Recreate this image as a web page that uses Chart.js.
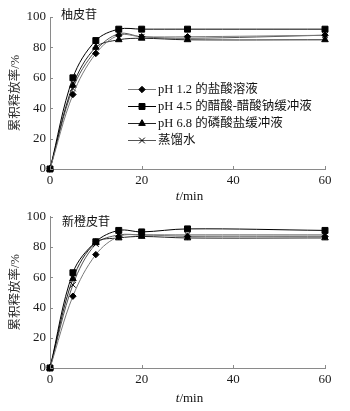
<!DOCTYPE html>
<html>
<head>
<meta charset="utf-8">
<script src="https://cdn.jsdelivr.net/npm/chart.js@4/dist/chart.umd.min.js"></script>
<style>
  html, body { margin: 0; padding: 0; background: #fff; }
  #wrap { position: relative; width: 350px; height: 411px; overflow: hidden; }
  .box { position: absolute; left: 0; width: 350px; }
  #box1 { top: 0; height: 205px; }
  #box2 { top: 205px; height: 206px; }
</style>
</head>
<body>
<div id="wrap">
  <div class="box" id="box1"><canvas id="c1" width="350" height="205"></canvas></div>
  <div class="box" id="box2"><canvas id="c2" width="350" height="206"></canvas></div>
</div>
<script>
// ---------- data ----------
const timeMin = [0, 5, 10, 15, 20, 30, 60];
const seriesNames = ['pH 1.2 的盐酸溶液', 'pH 4.5 的醋酸-醋酸钠缓冲液', 'pH 6.8 的磷酸盐缓冲液', '蒸馏水'];
const panelTitles = ['柚皮苷', '新橙皮苷'];
const yAxisTitle = '累积释放率/%';
const xAxisTitleItalic = 't';
const xAxisTitleRest = '/min';
const xTickValues = [0, 20, 40, 60];
const yTickValues = [0, 20, 40, 60, 80, 100];

// 柚皮苷 (naringin)
const naringinPH12 = [0, 49, 76, 88, 87, 87, 88];
const naringinPH45 = [0, 60, 84.5, 92, 92, 92, 92];
const naringinPH68 = [0, 55, 80, 85, 86, 85, 85];
const naringinWater = [0, 53, 78, 89, 87, 86, 88];

// 新橙皮苷 (neohesperidin)
const neoPH12 = [0, 47.5, 75, 87, 88, 87, 87];
const neoPH45 = [0, 63, 83.5, 91, 90, 92, 91];
const neoPH68 = [0, 59, 83, 86, 87, 86, 86];
const neoWater = [0, 55, 82, 88, 88, 88, 88];

// ---------- styles ----------
const serif = "'Liberation Serif', 'Times New Roman', 'DejaVu Serif', serif";
const cjk = "'Liberation Serif', 'Noto Sans CJK SC', 'Noto Sans CJK TC', serif";
const seriesStyles = [
  { line: '#7a7a7a', point: 'rectRot', r: 3.2 },
  { line: '#000000', point: 'rect', r: 4.2 },
  { line: '#222222', point: 'triangle', r: 3.8 },
  { line: '#555555', point: 'crossRot', r: 4 }
];
const axisColor = '#8a8a8a';

function makeDatasets(valuesList) {
  return valuesList.map((vals, i) => ({
    label: seriesNames[i],
    data: timeMin.map((t, k) => ({ x: t, y: vals[k] })),
    borderColor: seriesStyles[i].line,
    borderWidth: 1,
    backgroundColor: '#000',
    pointStyle: seriesStyles[i].point,
    pointRadius: seriesStyles[i].r,
    pointBackgroundColor: '#000',
    pointBorderColor: '#000',
    pointBorderWidth: 1,
    tension: 0.35,
    fill: false,
    clip: false
  }));
}

// inward tick marks, panel title, x title, optional legend
const decorPlugin = {
  id: 'decor',
  afterDraw(chart, args, opts) {
    const ctx = chart.ctx;
    const ca = chart.chartArea;
    const xs = chart.scales.x, ys = chart.scales.y;
    ctx.save();
    ctx.strokeStyle = axisColor;
    ctx.lineWidth = 1;
    ctx.beginPath();
    yTickValues.forEach(v => {
      const y = Math.round(ys.getPixelForValue(v)) + 0.5;
      ctx.moveTo(ca.left, y); ctx.lineTo(ca.left + 3, y);
    });
    xTickValues.forEach(v => {
      const x = Math.round(xs.getPixelForValue(v)) + 0.5;
      ctx.moveTo(x, ca.bottom); ctx.lineTo(x, ca.bottom - 3);
    });
    ctx.stroke();

    // panel title
    ctx.fillStyle = '#111';
    ctx.font = "12px 'Noto Sans CJK SC', sans-serif";
    ctx.textBaseline = 'middle';
    ctx.textAlign = 'left';
    ctx.fillText(opts.title, opts.titleX, opts.titleY);

    // x axis title with italic t
    ctx.font = 'italic 13px ' + serif;
    const w1 = ctx.measureText(xAxisTitleItalic).width;
    ctx.font = '13px ' + serif;
    const w2 = ctx.measureText(xAxisTitleRest).width;
    const cx = (ca.left + ca.right) / 2 + 2;
    const x0 = cx - (w1 + w2) / 2;
    ctx.font = 'italic 13px ' + serif;
    ctx.fillText(xAxisTitleItalic, x0, opts.xTitleY);
    ctx.font = '13px ' + serif;
    ctx.fillText(xAxisTitleRest, x0 + w1, opts.xTitleY);

    // legend
    if (opts.legend) {
      const lg = opts.legend;
      chart.data.datasets.forEach((ds, i) => {
        const y = lg.ys[i];
        ctx.strokeStyle = ds.borderColor;
        ctx.lineWidth = 1;
        ctx.beginPath();
        ctx.moveTo(lg.x0, y + 0.5); ctx.lineTo(lg.x1, y + 0.5);
        ctx.stroke();
        ctx.fillStyle = '#000';
        ctx.strokeStyle = '#000';
        Chart.helpers.drawPoint(ctx, { pointStyle: ds.pointStyle, radius: ds.pointRadius, borderWidth: 1, rotation: 0 }, (lg.x0 + lg.x1) / 2, y + 0.5);
        ctx.fillStyle = '#111';
        ctx.font = '12.5px ' + cjk;
        ctx.textBaseline = 'middle';
        ctx.fillText(ds.label, lg.tx, y + 1);
      });
    }
    ctx.restore();
  }
};

function makeChart(canvasId, datasets, pad, xHeight, decor) {
  return new Chart(document.getElementById(canvasId), {
    type: 'line',
    data: { datasets },
    plugins: [decorPlugin],
    options: {
      responsive: false,
      animation: false,
      events: [],
      layout: { padding: { left: 0, right: 25, top: pad.top, bottom: 0 } },
      plugins: {
        legend: { display: false },
        tooltip: { enabled: false },
        decor
      },
      scales: {
        x: {
          type: 'linear',
          min: 0, max: 60,
          afterBuildTicks: s => { s.ticks = xTickValues.map(v => ({ value: v })); },
          afterFit: s => { s.height = xHeight; },
          grid: { display: true, drawOnChartArea: false, drawTicks: false, color: 'rgba(0,0,0,0)' },
          border: { display: true, color: axisColor, width: 1 },
          ticks: { padding: 4, color: '#1a1a1a', font: { family: serif, size: 13 }, maxRotation: 0 },
          title: { display: false }
        },
        y: {
          type: 'linear',
          min: 0, max: 100,
          afterBuildTicks: s => { s.ticks = yTickValues.map(v => ({ value: v })); },
          afterFit: s => { s.width = 50; },
          grid: { display: true, drawOnChartArea: false, drawTicks: false, color: 'rgba(0,0,0,0)' },
          border: { display: true, color: axisColor, width: 1 },
          ticks: { padding: 4, color: '#1a1a1a', font: { family: serif, size: 13 } },
          title: {
            display: true,
            text: yAxisTitle,
            color: '#2a2a2a',
            font: { family: cjk, size: 12.5 },
            padding: { top: 8, bottom: 0 }
          }
        }
      }
    }
  });
}

makeChart('c1', makeDatasets([naringinPH12, naringinPH45, naringinPH68, naringinWater]),
  { top: 17 }, 36,
  { title: panelTitles[0], titleX: 61, titleY: 14, xTitleY: 197,
    legend: { x0: 128, x1: 156, tx: 158, ys: [89, 106, 123, 140] } });

makeChart('c2', makeDatasets([neoPH12, neoPH45, neoPH68, neoWater]),
  { top: 11 }, 43,
  { title: panelTitles[1], titleX: 62, titleY: 16, xTitleY: 194, legend: null });
</script>
</body>
</html>
